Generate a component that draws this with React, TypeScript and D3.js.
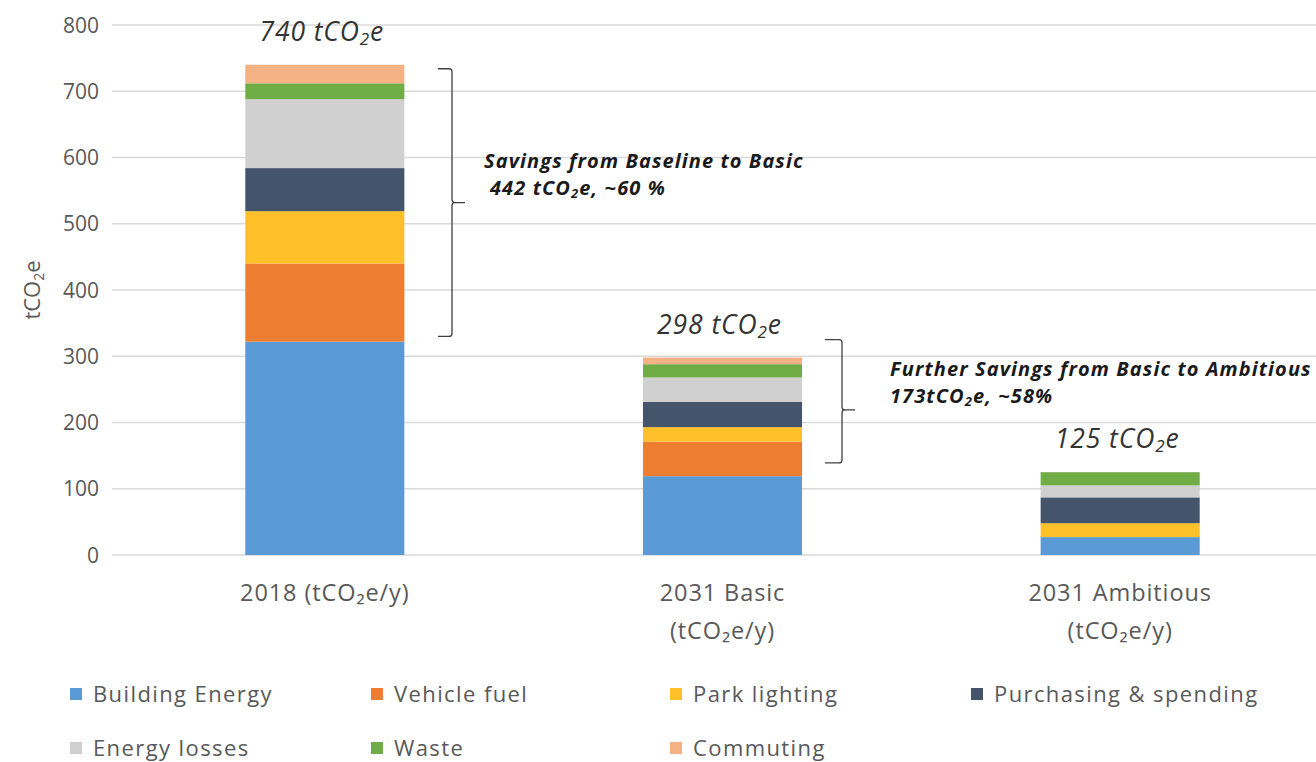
import * as d3 from "d3";
import { useRef, useEffect } from "react";

const categories = ["2018", "2031 Basic", "2031 Ambitious"];
const categoryLabels = [["2018 (tCO₂e/y)"], ["2031 Basic", "(tCO₂e/y)"], ["2031 Ambitious", "(tCO₂e/y)"]];
const seriesNames = ["Building Energy", "Vehicle fuel", "Park lighting", "Purchasing & spending", "Energy losses", "Waste", "Commuting"];
const seriesColors = ["#5B9BD5", "#ED7D31", "#FFC02A", "#44546A", "#D0D0D0", "#70AD47", "#F4B183"];

const buildingEnergy = [322, 119, 27];
const vehicleFuel = [118, 52, 0];
const parkLighting = [79, 22, 21];
const purchasing = [65, 38, 39];
const energyLosses = [104, 37, 18];
const waste = [24, 20, 20];
const commuting = [28, 10, 0];

const totals = ["740", "298", "125"];
const yTicks = [0, 100, 200, 300, 400, 500, 600, 700, 800];

const W = 1316;
const H = 762;

// writes "a", "2", "b" as text with a subscript 2 in the middle
function subText(t, before, after, size, shift) {
  t.append("tspan").text(before);
  t.append("tspan").attr("font-size", size).attr("dy", shift).text("2");
  t.append("tspan").attr("dy", -shift).text(after);
}

export default function App() {
  const svgRef = useRef(null);

  useEffect(() => {
    document.body.style.margin = "0";
    const svg = d3.select(svgRef.current);
    svg.selectAll("*").remove();

    const font = "'Open Sans', 'Noto Sans', sans-serif";
    const grey = "#595959";

    const y = d3.scaleLinear().domain([0, 800]).range([555, 25]);
    const x = d3.scaleBand().domain(categories).range([126, 1319]).paddingInner(0.6).paddingOuter(0.3);

    // gridlines
    svg.append("g")
      .selectAll("line")
      .data(yTicks)
      .enter()
      .append("line")
      .attr("x1", 112)
      .attr("x2", W)
      .attr("y1", (d) => y(d))
      .attr("y2", (d) => y(d))
      .attr("stroke", "#D9D9D9")
      .attr("stroke-width", 1.3);

    // y tick labels
    svg.append("g")
      .selectAll("text")
      .data(yTicks)
      .enter()
      .append("text")
      .attr("x", 99)
      .attr("y", (d) => y(d))
      .attr("dy", "0.36em")
      .attr("text-anchor", "end")
      .attr("font-family", font)
      .attr("font-size", 21)
      .attr("fill", grey)
      .text((d) => d);

    // y axis title
    const yt = svg.append("text")
      .attr("transform", "translate(40,290) rotate(-90)")
      .attr("text-anchor", "middle")
      .attr("font-family", font)
      .attr("font-size", 22)
      .attr("fill", grey);
    subText(yt, "tCO", "e", 14, 4);

    // stacked bars
    const table = categories.map((c, i) => ({
      cat: c,
      "Building Energy": buildingEnergy[i],
      "Vehicle fuel": vehicleFuel[i],
      "Park lighting": parkLighting[i],
      "Purchasing & spending": purchasing[i],
      "Energy losses": energyLosses[i],
      "Waste": waste[i],
      "Commuting": commuting[i],
    }));
    const stack = d3.stack().keys(seriesNames)(table);

    svg.append("g")
      .selectAll("g")
      .data(stack)
      .enter()
      .append("g")
      .attr("fill", (d, i) => seriesColors[i])
      .selectAll("rect")
      .data((d) => d)
      .enter()
      .append("rect")
      .attr("x", (d) => x(d.data.cat))
      .attr("width", x.bandwidth())
      .attr("y", (d) => y(d[1]))
      .attr("height", (d) => y(d[0]) - y(d[1]));

    // category labels
    categories.forEach((c, i) => {
      categoryLabels[i].forEach((line, j) => {
        svg.append("text")
          .attr("x", x(c) + x.bandwidth() / 2)
          .attr("y", 601 + j * 38)
          .attr("text-anchor", "middle")
          .attr("font-family", font)
          .attr("font-size", 23.5)
          .attr("letter-spacing", 0.9)
          .attr("fill", grey)
          .text(line);
      });
    });

    // total labels
    const stackTop = categories.map((c, i) => stack[stack.length - 1][i][1]);
    categories.forEach((c, i) => {
      const t = svg.append("text")
        .attr("x", x(c) + x.bandwidth() / 2 - 3)
        .attr("y", y(stackTop[i]) - 24)
        .attr("text-anchor", "middle")
        .attr("font-family", font)
        .attr("font-style", "italic")
        .attr("font-size", 26.5)
        .attr("letter-spacing", 0.9)
        .attr("fill", "#333333");
      subText(t, totals[i] + " tCO", "e", 17, 4);
    });

    // brackets
    const bracket = (x0, x1, v0, v1, vm) => {
      const top = y(v0), bot = y(v1), mid = y(vm);
      const p = d3.path();
      p.moveTo(x0, top);
      p.lineTo(x1 - 3, top);
      p.quadraticCurveTo(x1, top, x1, top + 3);
      p.lineTo(x1, mid - 3);
      p.quadraticCurveTo(x1, mid, x1 + 3, mid);
      p.lineTo(x1 + 13, mid);
      p.moveTo(x1 + 3, mid);
      p.quadraticCurveTo(x1, mid, x1, mid + 3);
      p.lineTo(x1, bot - 3);
      p.quadraticCurveTo(x1, bot, x1 - 3, bot);
      p.lineTo(x0, bot);
      svg.append("path")
        .attr("d", p.toString())
        .attr("fill", "none")
        .attr("stroke", "#404040")
        .attr("stroke-width", 1.3);
    };
    bracket(438, 452, 734, 330, 532);
    bracket(825, 842, 325, 139, 219);

    // bracket notes
    const noteText = (x0, y0) => svg.append("text")
      .attr("x", x0)
      .attr("y", y0)
      .attr("font-family", font)
      .attr("font-style", "italic")
      .attr("font-weight", "bold")
      .attr("font-size", 20)
      .attr("letter-spacing", 1.1)
      .attr("fill", "#1a1a1a");

    noteText(484, 168).text("Savings from Baseline to Basic");
    subText(noteText(490, 195), "442 tCO", "e, ~60 %", 13, 3);
    noteText(890, 376).text("Further Savings from Basic to Ambitious");
    subText(noteText(890, 403), "173tCO", "e, ~58%", 13, 3);

    // legend
    const legendPos = [
      [70, 694], [371, 694], [670, 694], [971, 694],
      [70, 748], [371, 748], [670, 748],
    ];
    const legend = svg.append("g")
      .selectAll("g")
      .data(seriesNames)
      .enter()
      .append("g")
      .attr("transform", (d, i) => `translate(${legendPos[i][0]},${legendPos[i][1]})`);
    legend.append("rect")
      .attr("x", 0)
      .attr("y", -6)
      .attr("width", 12)
      .attr("height", 12)
      .attr("fill", (d, i) => seriesColors[i]);
    legend.append("text")
      .attr("x", 23)
      .attr("dy", "0.35em")
      .attr("font-family", font)
      .attr("font-size", 22)
      .attr("letter-spacing", 1.4)
      .attr("fill", grey)
      .text((d) => d);
  }, []);

  return <svg ref={svgRef} width={W} height={H} style={{ display: "block", background: "#fff" }}></svg>;
}
